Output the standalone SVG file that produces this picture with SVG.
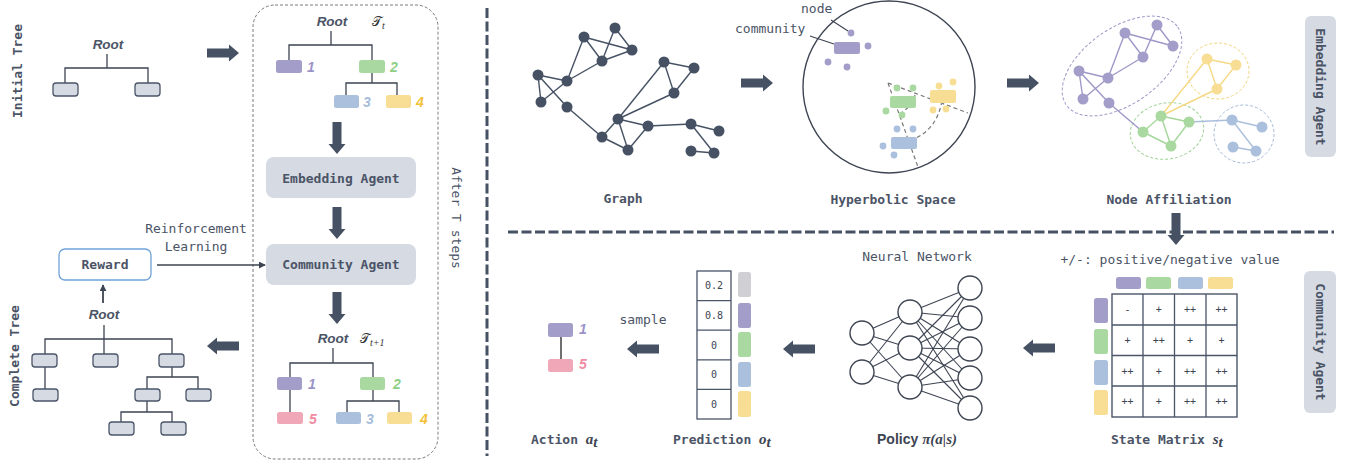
<svg xmlns="http://www.w3.org/2000/svg" xmlns:xlink="http://www.w3.org/1999/xlink" width="1347" height="463" viewBox="0 0 1347 463">
<defs>
<style>
.t{font-family:"DejaVu Sans Mono","Liberation Mono",monospace;font-size:13px;fill:#4b5466}
.b{font-weight:bold}
.c{text-anchor:middle}
.root{font-family:"Liberation Sans",Arial,sans-serif;font-style:italic;font-weight:bold;font-size:13.5px;fill:#4b5466;text-anchor:middle}
.num{font-family:"Liberation Sans",Arial,sans-serif;font-style:italic;font-weight:bold;font-size:14px}
.math{font-family:"Liberation Serif","DejaVu Serif",serif;font-style:italic;font-weight:bold;font-size:15px;fill:#3d4452}
.sub{font-family:"Liberation Serif","DejaVu Serif",serif;font-style:italic;font-weight:normal;font-size:10px;fill:#333}
.cal{font-family:"DejaVu Serif","Noto Sans","Liberation Serif",serif;font-size:13px;fill:#333}
.ln{stroke:#3d4452;stroke-width:1.3;fill:none}
.gb{fill:#d5dae3;stroke:#4a5568;stroke-width:1.3}
.agent{fill:#d5dae3}
.pu{fill:#a39ec9}.gr{fill:#a9d9a0}.bl{fill:#abc0dc}.ye{fill:#f8de95}.pk{fill:#f0a7b7}.gy{fill:#d0d0d4}
.gn{fill:#465264}
.ge{stroke:#465264;stroke-width:1.4}
.cell{font-family:"DejaVu Sans Mono","Liberation Mono",monospace;font-size:10px;fill:#3d4452;text-anchor:middle}
.div{stroke:#465264;stroke-width:3;stroke-dasharray:10 3.5;fill:none}
.nn{fill:#fff;stroke:#3d4452;stroke-width:1.4}
.nl{stroke:#3d4452;stroke-width:1.1}
</style>
<path id="ar" d="M0,-4.5H22V-8.5L32,0L22,8.5V4.5H0Z" fill="#465264"/>
<marker id="sm" viewBox="0 0 8 8" refX="7" refY="4" markerWidth="7" markerHeight="7" markerUnits="userSpaceOnUse" orient="auto"><path d="M0,0L8,4L0,8Z" fill="#3d4452"/></marker>
</defs>
<rect width="1347" height="463" fill="#fff"/>

<!-- dividers -->
<g id="dividers">
<line class="div" x1="487" y1="8" x2="487" y2="456"/>
<line class="div" x1="508" y1="232" x2="1334" y2="232"/>
</g>

<!-- Left panel -->
<g id="initial-tree">
<text class="t b" transform="translate(22,71) rotate(-90)" text-anchor="middle">Initial Tree</text>
<text class="root" x="108" y="49">Root</text>
<path class="ln" d="M107,54V68M65,83V68H148V83"/>
<rect class="gb" x="53" y="83" width="25" height="13" rx="3"/>
<rect class="gb" x="135" y="83" width="25" height="13" rx="3"/>
</g>

<g id="loop-box">
<rect x="253" y="5" width="185" height="454" rx="22" fill="none" stroke="#7a7a7a" stroke-width="1" stroke-dasharray="3 2"/>
<text class="t" transform="translate(452,218) rotate(90)" text-anchor="middle">After T steps</text>
</g>

<g id="tree-t">
<text class="root" x="332" y="26">Root</text>
<text class="cal" x="372" y="26">𝒯<tspan class="sub" dy="3">t</tspan></text>
<path class="ln" d="M331,31V45M289,60V45H372V60M372,73V83M346,95V83H397V95"/>
<rect class="pu" x="276" y="60" width="26" height="13" rx="2.5"/>
<rect class="gr" x="359" y="60" width="26" height="13" rx="2.5"/>
<rect class="bl" x="334" y="95" width="25" height="13" rx="2.5"/>
<rect class="ye" x="386" y="95" width="25" height="13" rx="2.5"/>
<text class="num" x="307" y="72" fill="#9a93c8">1</text>
<text class="num" x="390" y="72" fill="#8fcf86">2</text>
<text class="num" x="363" y="107" fill="#a6bcdb">3</text>
<text class="num" x="416" y="107" fill="#f2c23a">4</text>
</g>

<g id="embedding-agent">
<rect class="agent" x="266" y="157" width="150" height="41" rx="8"/>
<text class="t b c" x="341" y="183">Embedding Agent</text>
</g>

<g id="community-agent">
<rect class="agent" x="266" y="244" width="150" height="41" rx="8"/>
<text class="t b c" x="341" y="269">Community Agent</text>
</g>

<g id="tree-t1">
<text class="root" x="333" y="343">Root</text>
<text class="cal" x="360" y="343">𝒯<tspan class="sub" dy="3">t+1</tspan></text>
<path class="ln" d="M333,348V363M290,377V363H373V377M290,390V412M373,390V401M347,412V401H399V412"/>
<rect class="pu" x="277" y="377" width="25" height="13" rx="2.5"/>
<rect class="gr" x="360" y="377" width="25" height="13" rx="2.5"/>
<rect class="pk" x="277" y="412" width="26" height="12" rx="2.5"/>
<rect class="bl" x="336" y="412" width="25" height="12" rx="2.5"/>
<rect class="ye" x="387" y="412" width="25" height="12" rx="2.5"/>
<text class="num" x="308" y="389" fill="#9a93c8">1</text>
<text class="num" x="393" y="389" fill="#8fcf86">2</text>
<text class="num" x="309" y="424" fill="#f08ca3">5</text>
<text class="num" x="366" y="424" fill="#a6bcdb">3</text>
<text class="num" x="420" y="424" fill="#f2c23a">4</text>
</g>

<g id="reward">
<rect x="59" y="249" width="92" height="31" rx="6" fill="#fff" stroke="#6fa3d8" stroke-width="1.3"/>
<text class="t b c" x="105" y="269">Reward</text>
<text class="t c" x="196" y="233">Reinforcement</text>
<text class="t c" x="196" y="251">Learning</text>
</g>

<g id="complete-tree">
<text class="t b" transform="translate(19,356) rotate(-90)" text-anchor="middle">Complete Tree</text>
<text class="root" x="104" y="319">Root</text>
<path class="ln" d="M104,325V354M45,354V339H172V354M45,367V389M172,367V377M147,389V377H198V389M147,401V412M121,422V412H172V422"/>
<rect class="gb" x="32" y="354" width="25" height="13" rx="3"/>
<rect class="gb" x="93" y="354" width="25" height="13" rx="3"/>
<rect class="gb" x="159" y="354" width="25" height="13" rx="3"/>
<rect class="gb" x="33" y="389" width="25" height="12" rx="3"/>
<rect class="gb" x="135" y="389" width="25" height="12" rx="3"/>
<rect class="gb" x="186" y="389" width="25" height="12" rx="3"/>
<rect class="gb" x="109" y="422" width="25" height="13" rx="3"/>
<rect class="gb" x="161" y="422" width="25" height="13" rx="3"/>
</g>

<!-- Right top -->
<g id="graph">
<g class="ge">
<line x1="615" y1="28" x2="632" y2="50"/><line x1="615" y1="28" x2="602" y2="61"/>
<line x1="584" y1="37" x2="632" y2="50"/><line x1="584" y1="37" x2="602" y2="61"/>
<line x1="584" y1="37" x2="567" y2="81"/><line x1="602" y1="61" x2="632" y2="50"/>
<line x1="602" y1="61" x2="567" y2="81"/><line x1="538" y1="75" x2="567" y2="81"/>
<line x1="538" y1="75" x2="541" y2="102"/><line x1="541" y1="102" x2="567" y2="81"/>
<line x1="538" y1="75" x2="567" y2="107"/><line x1="567" y1="107" x2="602" y2="137"/>
<line x1="602" y1="137" x2="618" y2="119"/><line x1="602" y1="137" x2="628" y2="150"/>
<line x1="618" y1="119" x2="628" y2="150"/><line x1="618" y1="119" x2="648" y2="126"/>
<line x1="648" y1="126" x2="628" y2="150"/><line x1="618" y1="119" x2="664" y2="62"/>
<line x1="618" y1="119" x2="674" y2="93"/><line x1="664" y1="62" x2="694" y2="68"/>
<line x1="664" y1="62" x2="674" y2="93"/><line x1="694" y1="68" x2="674" y2="93"/>
<line x1="648" y1="126" x2="691" y2="124"/><line x1="691" y1="124" x2="719" y2="131"/>
<line x1="691" y1="124" x2="714" y2="153"/><line x1="691" y1="151" x2="714" y2="153"/>
</g>
<g class="gn">
<circle cx="615" cy="28" r="5.5"/><circle cx="584" cy="37" r="5.5"/><circle cx="632" cy="50" r="5.5"/>
<circle cx="602" cy="61" r="5.5"/><circle cx="538" cy="75" r="5.5"/><circle cx="567" cy="81" r="5.5"/>
<circle cx="541" cy="102" r="5.5"/><circle cx="567" cy="107" r="5.5"/><circle cx="664" cy="62" r="5.5"/>
<circle cx="694" cy="68" r="5.5"/><circle cx="674" cy="93" r="5.5"/><circle cx="618" cy="119" r="5.5"/>
<circle cx="648" cy="126" r="5.5"/><circle cx="602" cy="137" r="5.5"/><circle cx="628" cy="150" r="5.5"/>
<circle cx="691" cy="124" r="5.5"/><circle cx="719" cy="131" r="5.5"/><circle cx="691" cy="151" r="5.5"/>
<circle cx="714" cy="153" r="5.5"/>
</g>
<text class="t b c" x="623" y="203">Graph</text>
</g>

<g id="hyperbolic">
<circle cx="889" cy="87" r="86" fill="none" stroke="#3d4452" stroke-width="1.4"/>
<g fill="none" stroke="#777" stroke-width="1.2" stroke-dasharray="4 3">
<path d="M888,83L918,167M888,83L968,113M915,95Q912,106 901,113M942,101Q937,128 916,138"/>
</g>
<text class="t" x="801" y="13">node</text>
<text class="t" x="735" y="33">community</text>
<path d="M831,20L848,31M810,36L834,44" stroke="#3d4452" stroke-width="1.1" fill="none"/>
<rect class="pu" x="834" y="42" width="26" height="12" rx="2"/>
<g class="pu"><circle cx="851" cy="33" r="3.4"/><circle cx="868" cy="46" r="3.4"/><circle cx="828" cy="62" r="3.4"/><circle cx="847" cy="67" r="3.4"/></g>
<rect class="gr" x="890" y="96" width="26" height="12" rx="2"/>
<g class="gr"><circle cx="897" cy="88" r="3.4"/><circle cx="913" cy="88" r="3.4"/><circle cx="886" cy="111" r="3.4"/><circle cx="902" cy="115" r="3.4"/></g>
<rect class="ye" x="930" y="90" width="26" height="13" rx="2"/>
<g class="ye"><circle cx="939" cy="86" r="3.4"/><circle cx="953" cy="82" r="3.4"/><circle cx="933" cy="110" r="3.4"/><circle cx="946" cy="109" r="3.4"/></g>
<rect class="bl" x="891" y="137" width="26" height="12" rx="2"/>
<g class="bl"><circle cx="897" cy="129" r="3.4"/><circle cx="913" cy="129" r="3.4"/><circle cx="883" cy="146" r="3.4"/><circle cx="894" cy="155" r="3.4"/></g>
<text class="t b c" x="893" y="204">Hyperbolic Space</text>
</g>

<g id="node-affiliation">
<g fill="none" stroke-width="1" stroke-dasharray="3 2">
<ellipse cx="1122" cy="66" rx="68" ry="38" transform="rotate(-35 1122 66)" stroke="#9e98c8"/>
<ellipse cx="1167" cy="131" rx="37" ry="28" transform="rotate(-10 1167 131)" stroke="#9fd396"/>
<ellipse cx="1218" cy="71" rx="31" ry="28" stroke="#f2d47a"/>
<ellipse cx="1244" cy="134" rx="30" ry="29" stroke="#a3bad8"/>
</g>
<g stroke="#9e98c8" stroke-width="1.4">
<line x1="1157" y1="25" x2="1173" y2="46"/><line x1="1157" y1="25" x2="1143" y2="57"/>
<line x1="1125" y1="33" x2="1173" y2="46"/><line x1="1125" y1="33" x2="1143" y2="57"/>
<line x1="1125" y1="33" x2="1108" y2="78"/><line x1="1143" y1="57" x2="1108" y2="78"/>
<line x1="1079" y1="71" x2="1108" y2="78"/><line x1="1079" y1="71" x2="1083" y2="99"/>
<line x1="1083" y1="99" x2="1108" y2="78"/><line x1="1079" y1="71" x2="1109" y2="103"/>
<line x1="1109" y1="103" x2="1143" y2="132"/>
</g>
<g stroke="#a5d79b" stroke-width="1.4">
<line x1="1143" y1="132" x2="1161" y2="116"/><line x1="1143" y1="132" x2="1171" y2="146"/>
<line x1="1161" y1="116" x2="1171" y2="146"/><line x1="1161" y1="116" x2="1189" y2="122"/>
<line x1="1189" y1="122" x2="1171" y2="146"/>
</g>
<g stroke="#f5d985" stroke-width="1.4">
<line x1="1161" y1="116" x2="1207" y2="59"/><line x1="1161" y1="116" x2="1217" y2="89"/>
<line x1="1207" y1="59" x2="1236" y2="65"/><line x1="1207" y1="59" x2="1217" y2="89"/>
<line x1="1236" y1="65" x2="1217" y2="89"/>
</g>
<g stroke="#a9bfdc" stroke-width="1.4">
<line x1="1189" y1="122" x2="1232" y2="120"/><line x1="1232" y1="120" x2="1262" y2="127"/>
<line x1="1232" y1="120" x2="1256" y2="151"/><line x1="1233" y1="147" x2="1256" y2="151"/>
</g>
<g class="pu">
<circle cx="1125" cy="33" r="5.5"/><circle cx="1157" cy="25" r="5.5"/><circle cx="1173" cy="46" r="5.5"/>
<circle cx="1143" cy="57" r="5.5"/><circle cx="1079" cy="71" r="5.5"/><circle cx="1108" cy="78" r="5.5"/>
<circle cx="1083" cy="99" r="5.5"/><circle cx="1109" cy="103" r="5.5"/>
</g>
<g class="gr"><circle cx="1161" cy="116" r="5.5"/><circle cx="1189" cy="122" r="5.5"/><circle cx="1143" cy="132" r="5.5"/><circle cx="1171" cy="146" r="5.5"/></g>
<g class="ye"><circle cx="1207" cy="59" r="5.5"/><circle cx="1236" cy="65" r="5.5"/><circle cx="1217" cy="89" r="5.5"/></g>
<g class="bl"><circle cx="1232" cy="120" r="5.5"/><circle cx="1262" cy="127" r="5.5"/><circle cx="1233" cy="147" r="5.5"/><circle cx="1256" cy="151" r="5.5"/></g>
<text class="t b c" x="1169" y="204">Node Affiliation</text>
</g>

<g id="embedding-tab">
<rect class="agent" x="1305" y="16" width="31" height="141" rx="6"/>
<text class="t b" transform="translate(1316,87) rotate(90)" text-anchor="middle">Embedding Agent</text>
</g>

<!-- Right bottom -->
<g id="state-matrix">
<text class="t c" x="1170" y="264">+/-: positive/negative value</text>
<rect class="pu" x="1116" y="277" width="25" height="12" rx="2.5"/>
<rect class="gr" x="1146" y="277" width="25" height="12" rx="2.5"/>
<rect class="bl" x="1178" y="277" width="25" height="12" rx="2.5"/>
<rect class="ye" x="1208" y="277" width="25" height="12" rx="2.5"/>
<rect class="pu" x="1094" y="298" width="14" height="25" rx="2.5"/>
<rect class="gr" x="1094" y="329" width="14" height="25" rx="2.5"/>
<rect class="bl" x="1094" y="360" width="14" height="25" rx="2.5"/>
<rect class="ye" x="1094" y="390" width="14" height="25" rx="2.5"/>
<rect x="1112" y="294" width="125" height="123" fill="#fff" stroke="#4a5568" stroke-width="1.4"/>
<path d="M1143,294V417M1174.5,294V417M1206,294V417M1112,325H1237M1112,355.5H1237M1112,386H1237" stroke="#4a5568" stroke-width="1.3"/>
<text class="cell" x="1127.5" y="313">-</text><text class="cell" x="1158.75" y="313">+</text><text class="cell" x="1190" y="313">++</text><text class="cell" x="1221.5" y="313">++</text>
<text class="cell" x="1127.5" y="344">+</text><text class="cell" x="1158.75" y="344">++</text><text class="cell" x="1190" y="344">+</text><text class="cell" x="1221.5" y="344">+</text>
<text class="cell" x="1127.5" y="374.5">++</text><text class="cell" x="1158.75" y="374.5">+</text><text class="cell" x="1190" y="374.5">++</text><text class="cell" x="1221.5" y="374.5">++</text>
<text class="cell" x="1127.5" y="405">++</text><text class="cell" x="1158.75" y="405">+</text><text class="cell" x="1190" y="405">++</text><text class="cell" x="1221.5" y="405">++</text>
<text class="t b" x="1111" y="444">State Matrix <tspan class="math">s</tspan><tspan class="math" font-size="10" dy="3">t</tspan></text>
</g>

<g id="community-tab">
<rect class="agent" x="1304" y="271" width="32" height="142" rx="6"/>
<text class="t b" transform="translate(1316,342) rotate(90)" text-anchor="middle">Community Agent</text>
</g>

<g id="policy-network">
<text class="t c" x="917" y="261">Neural Network</text>
<g class="nl">
<line x1="862" y1="333" x2="910" y2="312"/><line x1="862" y1="333" x2="910" y2="348"/><line x1="862" y1="333" x2="910" y2="387"/>
<line x1="862" y1="372" x2="910" y2="312"/><line x1="862" y1="372" x2="910" y2="348"/><line x1="862" y1="372" x2="910" y2="387"/>
<line x1="910" y1="312" x2="970" y2="288"/><line x1="910" y1="312" x2="970" y2="318"/><line x1="910" y1="312" x2="970" y2="349"/><line x1="910" y1="312" x2="970" y2="378"/><line x1="910" y1="312" x2="970" y2="408"/>
<line x1="910" y1="348" x2="970" y2="288"/><line x1="910" y1="348" x2="970" y2="318"/><line x1="910" y1="348" x2="970" y2="349"/><line x1="910" y1="348" x2="970" y2="378"/><line x1="910" y1="348" x2="970" y2="408"/>
<line x1="910" y1="387" x2="970" y2="288"/><line x1="910" y1="387" x2="970" y2="318"/><line x1="910" y1="387" x2="970" y2="349"/><line x1="910" y1="387" x2="970" y2="378"/><line x1="910" y1="387" x2="970" y2="408"/>
</g>
<g class="nn">
<circle cx="862" cy="333" r="12"/><circle cx="862" cy="372" r="12"/>
<circle cx="910" cy="312" r="12"/><circle cx="910" cy="348" r="12"/><circle cx="910" cy="387" r="12"/>
<circle cx="970" cy="288" r="12"/><circle cx="970" cy="318" r="12"/><circle cx="970" cy="349" r="12"/><circle cx="970" cy="378" r="12"/><circle cx="970" cy="408" r="12"/>
</g>
<text x="877" y="444" font-family="Liberation Sans,Arial,sans-serif" font-weight="bold" font-size="14" fill="#3d4452">Policy <tspan class="math">π(a|s)</tspan></text>
</g>

<g id="prediction">
<rect x="697" y="271" width="34" height="148" fill="#fff" stroke="#4a5568" stroke-width="1.3"/>
<path d="M697,300.6H731M697,330.2H731M697,359.8H731M697,389.4H731" stroke="#4a5568" stroke-width="1.3"/>
<text class="cell" x="714" y="289.3">0.2</text><text class="cell" x="714" y="318.9">0.8</text>
<text class="cell" x="714" y="348.5">0</text><text class="cell" x="714" y="378.1">0</text><text class="cell" x="714" y="407.7">0</text>
<rect class="gy" x="738" y="272" width="13" height="25" rx="2.5"/>
<rect class="pu" x="738" y="303" width="13" height="25" rx="2.5"/>
<rect class="gr" x="738" y="332" width="13" height="25" rx="2.5"/>
<rect class="bl" x="738" y="362" width="13" height="25" rx="2.5"/>
<rect class="ye" x="738" y="391" width="13" height="26" rx="2.5"/>
<text class="t b" x="673" y="444">Prediction <tspan class="math">o</tspan><tspan class="math" font-size="10" dy="3">t</tspan></text>
</g>

<g id="action">
<text class="t c" x="643" y="324">sample</text>
<line x1="561" y1="337" x2="561" y2="359" stroke="#222" stroke-width="1.3"/>
<rect class="pu" x="548" y="323" width="25" height="14" rx="2.5"/>
<rect class="pk" x="548" y="359" width="25" height="13" rx="2.5"/>
<text class="num" x="579" y="334" fill="#9a93c8">1</text>
<text class="num" x="579" y="369" fill="#f08ca3">5</text>
<text class="t b" x="531" y="444">Action <tspan class="math">a</tspan><tspan class="math" font-size="10" dy="3">t</tspan></text>
</g>

<g id="connectors">
<use xlink:href="#ar" transform="translate(207,53)"/>
<use xlink:href="#ar" transform="translate(337,122) rotate(90)"/>
<use xlink:href="#ar" transform="translate(337,207) rotate(90)"/>
<use xlink:href="#ar" transform="translate(337,292) rotate(90)"/>
<use xlink:href="#ar" transform="translate(239,346) rotate(180)"/>
<use xlink:href="#ar" transform="translate(741,83)"/>
<use xlink:href="#ar" transform="translate(1007,83)"/>
<use xlink:href="#ar" transform="translate(1176,213) rotate(90)"/>
<use xlink:href="#ar" transform="translate(1055,348) rotate(180)"/>
<use xlink:href="#ar" transform="translate(815,349) rotate(180)"/>
<use xlink:href="#ar" transform="translate(659,349) rotate(180)"/>
<line x1="157" y1="265" x2="265" y2="265" stroke="#3d4452" stroke-width="1.3" marker-end="url(#sm)"/>
<line x1="103" y1="303" x2="103" y2="285" stroke="#3d4452" stroke-width="1.8" marker-end="url(#sm)"/>
</g>
</svg>
